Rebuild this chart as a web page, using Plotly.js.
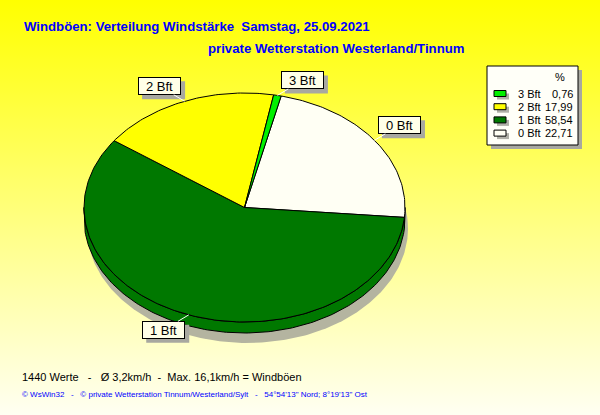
<!DOCTYPE html>
<html>
<head>
<meta charset="utf-8">
<script src="https://cdn.plot.ly/plotly-3.0.1.min.js"></script>
<style>
html,body{margin:0;padding:0;}
#chart{width:600px;height:415px;background:linear-gradient(to bottom,#ffff00 0%,#fffff2 100%);}
</style>
</head>
<body>
<div id="chart"></div>
<script>
// ---- data ----
const categories = ['0 Bft', '1 Bft', '2 Bft', '3 Bft'];
const percents = [22.71, 58.54, 17.99, 0.76];
const sliceColors = ['#fffff4', '#007800', '#ffff00', '#00f000'];
const titleText = 'Windböen: Verteilung Windstärke\u00a0\u00a0Samstag, 25.09.2021';
const subtitleText = 'private Wetterstation Westerland/Tinnum';
const valueCount = 1440;
const meanText = '3,2km/h';
const maxText = '16,1km/h';
const footerText = '©\u00a0WsWin32\u00a0\u00a0\u00a0-\u00a0\u00a0\u00a0©\u00a0private Wetterstation Tinnum/Westerland/Sylt\u00a0\u00a0\u00a0-\u00a0\u00a0\u00a054°54\'13" Nord; 8°19\'13" Ost';

// ---- geometry (style) ----
const cx = 244.5, cy = 207.5, rx = 160.5, ry = 114.5, depth = 11;
const startDeg = 283.2; // where the first slice starts (screen-clockwise param angle)

function pt(tDeg, dy) {
  const t = tDeg * Math.PI / 180;
  return [cx + rx * Math.cos(t), cy + ry * Math.sin(t) + (dy || 0)];
}
function arc(a0, a1, dy) {
  const xs = [], ys = [];
  const n = Math.max(2, Math.ceil(Math.abs(a1 - a0)));
  for (let i = 0; i <= n; i++) {
    const p = pt(a0 + (a1 - a0) * i / n, dy);
    xs.push(p[0]); ys.push(p[1]);
  }
  return [xs, ys];
}

const total = percents.reduce((a, b) => a + b, 0);
const slices = [];
let acc = startDeg;
percents.forEach((v, i) => {
  const span = v / total * 360;
  slices.push({a0: acc, a1: acc + span, i: i});
  acc += span;
});

const traces = [];
// shadow below the pie
{
  const [xs, ys] = arc(0, 360, depth + 10);
  traces.push({x: xs.map(v => v + 3), y: ys, mode: 'lines', fill: 'toself', fillcolor: '#b4b4a0',
    line: {width: 0, color: 'rgba(0,0,0,0)'}, hoverinfo: 'skip', showlegend: false});
}
// side walls
slices.forEach(s => {
  [0, 360].forEach(k => {
    const lo = Math.max(s.a0, k), hi = Math.min(s.a1, k + 180);
    if (hi > lo) {
      const [tx, ty] = arc(lo, hi, 0);
      const [bx, by] = arc(hi, lo, depth);
      traces.push({x: tx.concat(bx, [tx[0]]), y: ty.concat(by, [ty[0]]), mode: 'lines',
        fill: 'toself', fillcolor: sliceColors[s.i], line: {color: '#000', width: 1},
        hoverinfo: 'skip', showlegend: false});
    }
  });
});
// top face wedges
slices.forEach(s => {
  const [xs, ys] = arc(s.a0, s.a1, 0);
  traces.push({x: [cx].concat(xs, [cx]), y: [cy].concat(ys, [cy]), mode: 'lines',
    fill: 'toself', fillcolor: sliceColors[s.i], line: {color: '#000', width: 1},
    hoverinfo: 'skip', showlegend: false, name: categories[s.i]});
});

const annotations = [];
const shapes = [];

// slice labels
const labelFont = {family: 'Arial, Liberation Sans, sans-serif', size: 13, color: '#000'};
const boxW = 43, boxH = 18;
slices.forEach(s => {
  const mid = (s.a0 + s.a1) / 2;
  const p = pt(mid, 0);
  const t = mid * Math.PI / 180;
  const ax = 25 * Math.sign(Math.cos(t));
  const ay = 15 * Math.sign(Math.sin(t));
  const lx = p[0] + ax, ly = p[1] + ay;
  shapes.push({type: 'rect', xref: 'x', yref: 'y', x0: lx - boxW / 2 + 4, x1: lx + boxW / 2 + 4,
    y0: ly - boxH / 2 + 4, y1: ly + boxH / 2 + 4, fillcolor: '#a8a8a0', line: {width: 0}});
  annotations.push({x: p[0], y: p[1], xref: 'x', yref: 'y', text: categories[s.i],
    showarrow: true, arrowhead: 0, arrowwidth: 1, arrowcolor: '#ffffff', ax: ax, ay: ay,
    width: boxW - 4, height: boxH - 4, borderpad: 1, borderwidth: 1,
    bgcolor: '#ffffe8', bordercolor: '#000', font: labelFont});
});

// titles and texts
const txt = (text, x, y, size, color, bold, anchor) => ({
  text: bold ? '<b>' + text + '</b>' : text, x: x, y: y, xref: 'x', yref: 'y',
  xanchor: anchor || 'left', yanchor: 'middle', showarrow: false,
  font: {family: 'Arial, Liberation Sans, sans-serif', size: size, color: color}
});
annotations.push(txt(titleText, 22, 26, 13.2, '#0000ff', true));
annotations.push(txt(subtitleText, 206, 48, 13.2, '#0000ff', true));
annotations.push(txt(valueCount + ' Werte\u00a0\u00a0\u00a0-\u00a0\u00a0\u00a0Ø ' + meanText +
  '\u00a0\u00a0-\u00a0\u00a0Max. ' + maxText + ' = Windböen', 20, 377, 11, '#000', false));
annotations.push(txt(footerText, 20, 394, 8, '#0000ff', false));

// legend box
shapes.push({type: 'rect', xref: 'x', yref: 'y', x0: 491, x1: 582, y0: 70, y1: 149,
  fillcolor: '#a8a8a0', line: {width: 0}});
shapes.push({type: 'rect', xref: 'x', yref: 'y', x0: 487, x1: 578, y0: 66, y1: 145,
  fillcolor: '#fffff8', line: {color: '#000', width: 1}});
annotations.push(txt('%', 560, 77, 11, '#000', false, 'center'));
const legendOrder = [3, 2, 1, 0];
legendOrder.forEach((idx, r) => {
  const y = 93.5 + r * 13.2;
  shapes.push({type: 'rect', xref: 'x', yref: 'y', x0: 497, x1: 509, y0: y, y1: y + 6,
    fillcolor: '#b0b0a8', line: {width: 0}});
  shapes.push({type: 'rect', xref: 'x', yref: 'y', x0: 494, x1: 506, y0: y - 3, y1: y + 3,
    fillcolor: sliceColors[idx], line: {color: '#000', width: 1}});
  annotations.push(txt(categories[idx], 516, y, 11, '#000', false, 'left'));
  annotations.push(txt(percents[idx].toFixed(2).replace('.', ','), 575, y, 11, '#000', false, 'right'));
});

const layout = {
  width: 600, height: 415,
  margin: {l: 0, r: 0, t: 0, b: 0},
  paper_bgcolor: 'rgba(0,0,0,0)', plot_bgcolor: 'rgba(0,0,0,0)',
  xaxis: {range: [0, 600], visible: false, fixedrange: true},
  yaxis: {range: [415, 0], visible: false, fixedrange: true},
  showlegend: false,
  annotations: annotations,
  shapes: shapes
};
Plotly.newPlot('chart', traces, layout, {staticPlot: true, displayModeBar: false});
</script>
</body>
</html>
